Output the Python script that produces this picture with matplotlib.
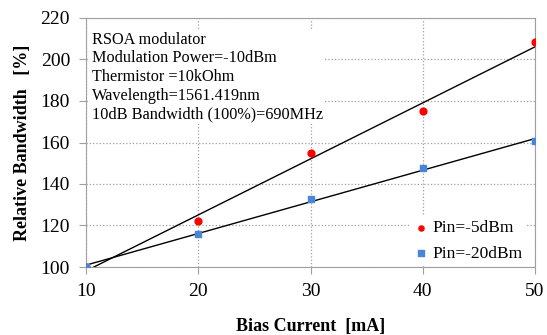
import matplotlib
matplotlib.use("Agg")
import matplotlib.pyplot as plt
import numpy as np

# data
bias_current = [10, 20, 30, 40, 50]
pin_m5 = [100, 122, 155, 175, 208.5]
pin_m20 = [100, 116, 133, 147.5, 160.5]

info_text = ("RSOA modulator\n"
             "Modulation Power=-10dBm\n"
             "Thermistor =10kOhm\n"
             "Wavelength=1561.419nm\n"
             "10dB Bandwidth (100%)=690MHz")

plt.rcParams['font.family'] = ['Liberation Serif', 'DejaVu Serif']

fig = plt.figure(figsize=(5.47, 3.35), dpi=100)
ax = fig.add_axes([86 / 547, 1 - 267 / 335, 449 / 547, 249 / 335])

x = np.array(bias_current)
# linear trend lines
for series in (pin_m5, pin_m20):
    k, b = np.polyfit(x, series, 1)
    ax.plot(x, k * x + b, color='black', lw=1.0, zorder=3)

ax.scatter(bias_current, pin_m5, marker='o', s=24, color='#ff0000', zorder=4, label='Pin=-5dBm')
ax.scatter(bias_current, pin_m20, marker='s', s=24, color='#4a86d8', zorder=4, label='Pin=-20dBm')

ax.set_xlim(10, 50)
ax.set_ylim(100, 220)
ax.set_xticks([10, 20, 30, 40, 50])
ax.set_yticks(range(100, 221, 20))
ax.grid(True, color='#a0a0a0', ls=':', lw=0.9)
ax.set_axisbelow(True)
for s in ax.spines.values():
    s.set_color('#a0a0a0')
    s.set_linewidth(0.8)
ax.tick_params(direction='out', length=5, color='#a0a0a0', labelsize=14, pad=6.5)

ax.set_xlabel('Bias Current  [mA]', fontsize=13, fontweight='bold', labelpad=13)
ax.set_ylabel('Relative Bandwidth   [%]', fontsize=13, fontweight='bold', labelpad=7)

ax.text(0.013, 0.945, info_text, transform=ax.transAxes, va='top', ha='left',
        fontsize=11.7, linespacing=1.22,
        bbox=dict(facecolor='white', edgecolor='none', pad=1), zorder=5)

leg = ax.legend(loc='lower right', fontsize=12.5, frameon=True, handletextpad=0.15,
                handlelength=1.0, borderpad=0.2, labelspacing=0.55, markerscale=0.75,
                bbox_to_anchor=(0.999, -0.028))
leg.get_frame().set_edgecolor('none')
leg.get_frame().set_alpha(1)

fig.savefig('out.png', dpi=100)
